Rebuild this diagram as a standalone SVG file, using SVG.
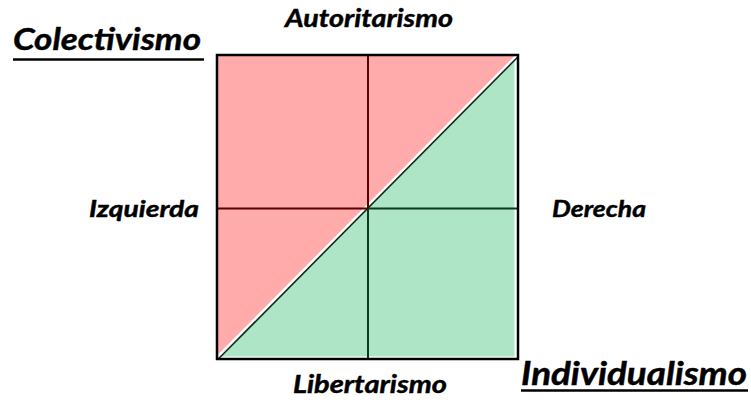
<svg xmlns="http://www.w3.org/2000/svg" width="751" height="402" viewBox="0 0 751 402">
<style>
.lbl{font-family:Lato,"Open Sans","Liberation Sans",sans-serif;font-weight:bold;font-style:italic;fill:#000;stroke:#000;stroke-width:0.45}
.red{stroke:#5c0000;stroke-width:2}
.grn{stroke:#0b3a1c;stroke-width:2}
</style>
<rect width="751" height="402" fill="#fff"/>
<g id="chart">
<rect x="217" y="55" width="301" height="304" fill="#FFABAB"/>
<polygon points="218,358 516,57 516,358" fill="#AEE5C7" stroke="#fff" stroke-width="3" stroke-linejoin="miter"/>
<line x1="217" y1="358" x2="517" y2="56" stroke="#fff" stroke-width="3.5"/>
<line x1="218.3" y1="359" x2="517.6" y2="57.3" stroke="#0b2a16" stroke-width="1.6"/>
</g>
<g id="connectors">
<line class="red" x1="368" y1="56" x2="368" y2="208"/>
<line class="grn" x1="368" y1="208" x2="368" y2="358"/>
<line class="red" x1="218" y1="208.5" x2="368" y2="208.5"/>
<line class="grn" x1="368" y1="208.5" x2="517" y2="208.5"/>
</g>
<rect x="217" y="55" width="301" height="304" fill="none" stroke="#000" stroke-width="2.5"/>
<g id="autoritarismo"><text class="lbl" x="285" y="27" font-size="24.5" textLength="168" lengthAdjust="spacingAndGlyphs">Autoritarismo</text></g>
<g id="colectivismo"><text class="lbl" x="13" y="49.5" font-size="30.5" textLength="188" lengthAdjust="spacingAndGlyphs">Colectivismo</text>
<line x1="13" y1="59.5" x2="204" y2="59.5" stroke="#000" stroke-width="2.5"/></g>
<g id="izquierda"><text class="lbl" x="89" y="217" font-size="23.5" textLength="110" lengthAdjust="spacingAndGlyphs">Izquierda</text></g>
<g id="derecha"><text class="lbl" x="552" y="217" font-size="23.5" textLength="94" lengthAdjust="spacingAndGlyphs">Derecha</text></g>
<g id="libertarismo"><text class="lbl" x="293" y="393" font-size="24.5" textLength="154" lengthAdjust="spacingAndGlyphs">Libertarismo</text></g>
<g id="individualismo"><text class="lbl" x="521" y="385" font-size="32" textLength="226" lengthAdjust="spacingAndGlyphs">Individualismo</text>
<line x1="521" y1="390.5" x2="748" y2="390.5" stroke="#000" stroke-width="2.5"/></g>
</svg>
